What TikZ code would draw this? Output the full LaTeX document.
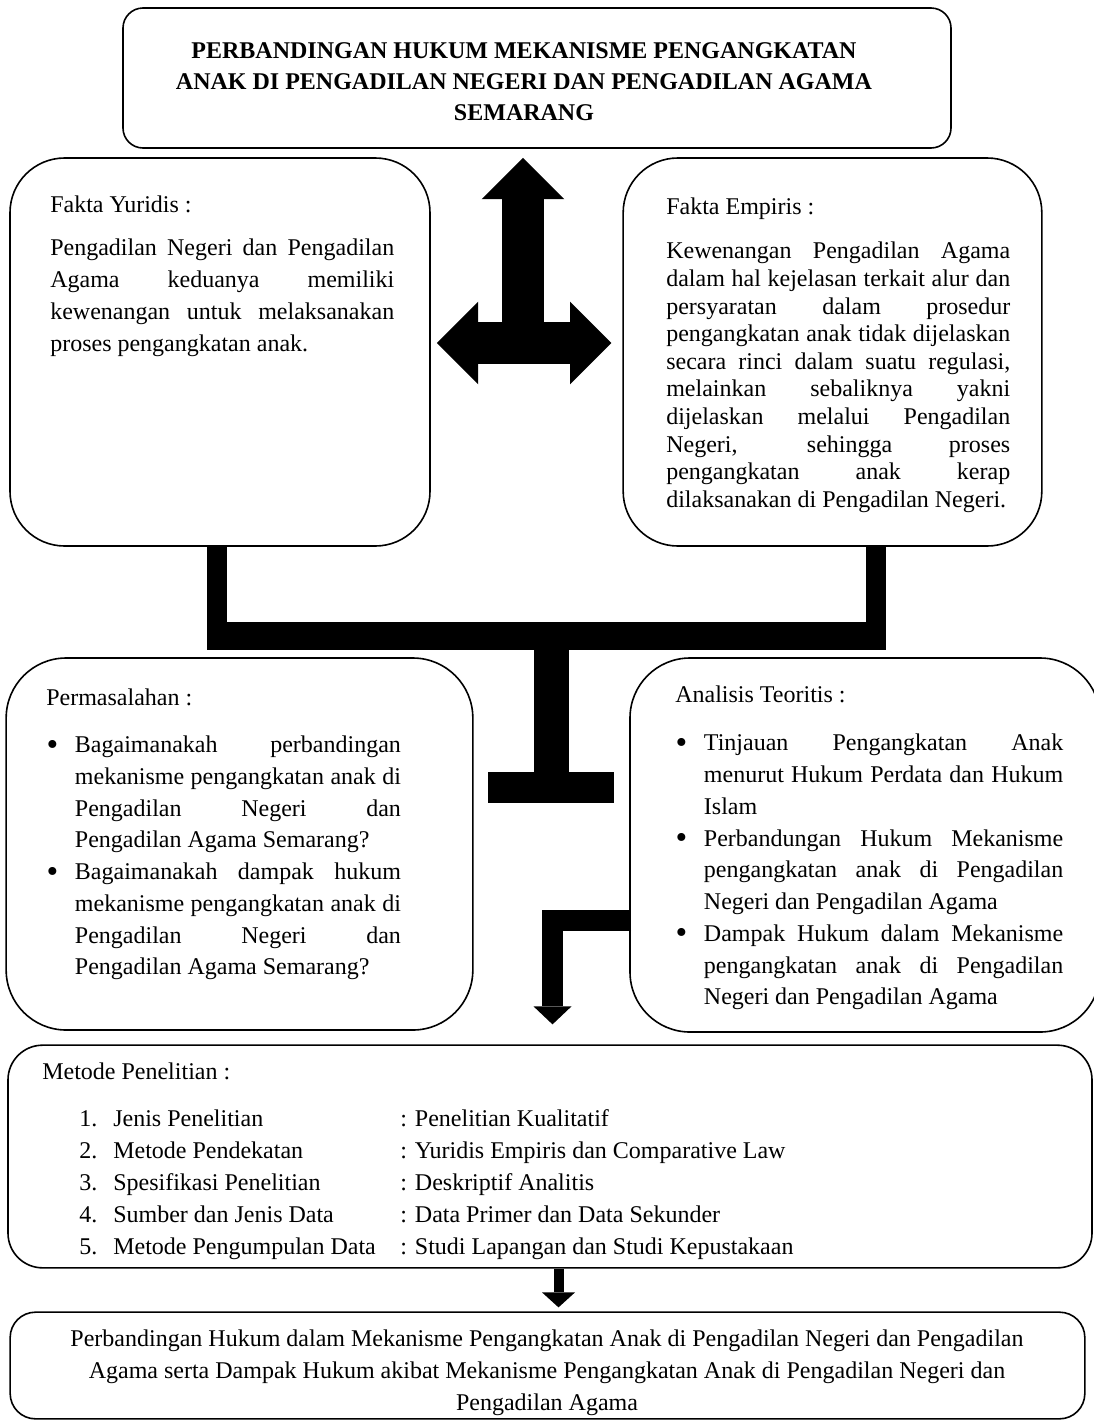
\documentclass[tikz,border=0pt]{standalone}
\usepackage{fontspec}
\setmainfont{Liberation Serif}
\usetikzlibrary{calc,arrows.meta,positioning}
\hyphenpenalty=10000
\tolerance=10000
\newcommand{\butir}[1]{\par\hangindent=21.5pt\hangafter=0\noindent\llap{\raisebox{-2pt}{\fontsize{25}{25}\selectfont\textbullet}\hspace{12.5pt}}#1\par}

\begin{document}
\begin{tikzpicture}[x=0.75pt,y=-0.75pt,
  kotak/.style={draw,line width=1.2pt,inner sep=0pt},
  teks/.style={inner sep=0pt,anchor=north west,align=justify,font=\fontsize{18}{23.8}\selectfont},
  baris/.style={inner sep=0pt,anchor=base west,font=\fontsize{18}{24}\selectfont},
  blok/.style={line width=31pt,>={Triangle[width=62pt,length=31pt,line width=0pt]}}]
\useasboundingbox (0,0) rectangle (1094,1421);
\node[kotak,rounded corners=15pt,minimum width=621pt,minimum height=105pt] (judul) at (537,78) {};
\node[kotak,rounded corners=41pt,minimum width=315pt,minimum height=291pt] (yuridis) at (220,352) {};
\node[kotak,rounded corners=41pt,minimum width=314pt,minimum height=291pt] (empiris) at (832.5,352) {};
\node[kotak,rounded corners=45pt,minimum width=350pt,minimum height=279pt] (masalah) at (239.5,844) {};
\node[kotak,rounded corners=45pt,minimum width=352.5pt,minimum height=280.5pt] (analisis) at (865,845) {};
\node[kotak,rounded corners=26pt,minimum width=813pt,minimum height=167pt] (metode) at (550,1156.5) {};
\node[kotak,rounded corners=19pt,minimum width=806pt,minimum height=80pt] (hasil) at (547.5,1365.5) {};

\node[font=\bfseries\fontsize{18}{23.25}\selectfont,align=center,inner sep=0pt,anchor=north] (tjudul) at (524,42)
  {PERBANDINGAN HUKUM MEKANISME PENGANGKATAN\\ANAK DI PENGADILAN NEGERI DAN PENGADILAN AGAMA\\SEMARANG};
\node[teks,text width=258pt] (tyuridis) at (50,196) {Fakta Yuridis :\par\vspace{8.5pt}Pengadilan Negeri dan Pengadilan\linebreak Agama keduanya memiliki\linebreak kewenangan untuk melaksanakan\linebreak proses pengangkatan anak.\par};
\node[teks,text width=258pt,font=\fontsize{18}{20.7}\selectfont] (tempiris) at (666,198) {Fakta Empiris :\par\vspace{12.3pt}Kewenangan Pengadilan Agama\linebreak dalam hal kejelasan terkait alur dan\linebreak persyaratan dalam prosedur\linebreak pengangkatan anak tidak dijelaskan\linebreak secara rinci dalam suatu regulasi,\linebreak melainkan sebaliknya yakni\linebreak dijelaskan melalui Pengadilan\linebreak Negeri, sehingga proses\linebreak pengangkatan anak kerap\linebreak dilaksanakan di Pengadilan Negeri.\par};
\node[teks,text width=266pt] (tmasalah) at (46,689) {Permasalahan :\par\vspace{11.3pt}\butir{Bagaimanakah perbandingan\linebreak mekanisme pengangkatan anak di\linebreak Pengadilan Negeri dan\linebreak Pengadilan Agama Semarang?}\butir{Bagaimanakah dampak hukum\linebreak mekanisme pengangkatan anak di\linebreak Pengadilan Negeri dan\linebreak Pengadilan Agama Semarang?}};
\node[teks,text width=291pt] (tanalisis) at (675,686) {Analisis Teoritis :\par\vspace{12.2pt}\butir{Tinjauan Pengangkatan Anak\linebreak menurut Hukum Perdata dan Hukum\linebreak Islam}\butir{Perbandungan Hukum Mekanisme\linebreak pengangkatan anak di Pengadilan\linebreak Negeri dan Pengadilan Agama}\butir{Dampak Hukum dalam Mekanisme\linebreak pengangkatan anak di Pengadilan\linebreak Negeri dan Pengadilan Agama}};
\node[baris] (tmetode) at (42,1079) {Metode Penelitian :};
\foreach \i/\lbl/\isi in {1/Jenis Penelitian/Penelitian Kualitatif,2/Metode Pendekatan/Yuridis Empiris dan Comparative Law,3/Spesifikasi Penelitian/Deskriptif Analitis,4/Sumber dan Jenis Data/Data Primer dan Data Sekunder,5/Metode Pengumpulan Data/Studi Lapangan dan Studi Kepustakaan}
{
\node[baris] (no\i) at (79,{1126+32*(\i-1)}) {\i.};
\node[baris] (lbl\i) at (113,{1126+32*(\i-1)}) {\lbl};
\node[baris] (isi\i) at (400,{1126+32*(\i-1)}) {: \isi};
}
\node[font=\fontsize{18}{24}\selectfont,align=center,inner sep=0pt,anchor=north] (thasil) at (547,1329.6)
  {Perbandingan Hukum dalam Mekanisme Pengangkatan Anak di Pengadilan Negeri dan Pengadilan\\Agama serta Dampak Hukum akibat Mekanisme Pengangkatan Anak di Pengadilan Negeri dan\\Pengadilan Agama};

\coordinate (kiri) at ($(yuridis.east)+(6,-9)$);
\coordinate (kanan) at ($(empiris.west)+(-11,-9)$);
\coordinate (atas) at ($(judul.south)+(-14,9)$);
\draw[blok,<->] (kiri) -- (kanan);
\draw[blok,->] (atas |- kiri) -- (atas);

\coordinate (simpul) at (551.5,635);
\coordinate (ujung) at (551.5,772);
\draw[line width=15pt] ($(yuridis.south)+(-3,0)$) |- (simpul) -| ($(empiris.south)+(43.5,0)$);
\draw[line width=21pt] ($(yuridis.south)+(-13,89)$) -- ($(empiris.south)+(53.5,89)$);
\draw[line width=26.25pt] (simpul) -- (ujung);
\draw[line width=23.25pt] ($(ujung)+(-63.5,15.5)$) -- ($(ujung)+(62.5,15.5)$);

\draw[line width=15.75pt,line join=miter,-{Triangle[width=28.5pt,length=13.5pt,line width=0pt]}] ($(analisis.west)+(2,75.5)$) -| ($(metode.north)+(2.5,-20)$);
\draw[line width=7.5pt,-{Triangle[width=24.75pt,length=11.25pt,line width=0pt]}] ($(metode.south)+(8.5,0)$) -- ($(hasil.north)+(11,-4)$);
\end{tikzpicture}
\end{document}
